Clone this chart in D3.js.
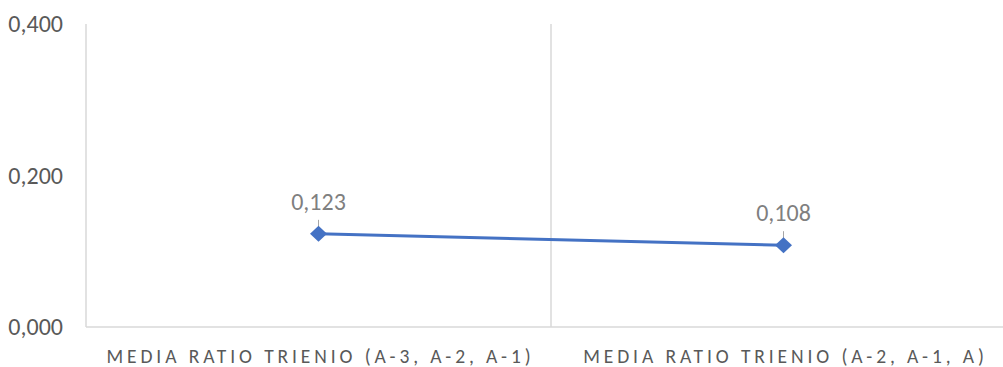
<!DOCTYPE html>
<html>
<head>
<meta charset="utf-8">
<script src="https://cdn.jsdelivr.net/npm/d3@7"></script>
<style>
  html, body { margin: 0; padding: 0; background: #fff; }
  svg { display: block; }
</style>
</head>
<body>
<svg id="chart" width="1003" height="367"></svg>
<script>
// Chart data
const categories = ["MEDIA RATIO TRIENIO (A-3, A-2, A-1)", "MEDIA RATIO TRIENIO (A-2, A-1, A)"];
const values = [0.123, 0.108];
const yTicks = [0, 0.2, 0.4];

const svg = d3.select("#chart");
const margin = { left: 86, right: -13, top: 24, bottom: 40 };
const width = 1003, height = 367;
const fmt = v => d3.format(".3f")(v).replace(".", ",");

const x = d3.scaleBand()
  .domain(categories)
  .range([margin.left, width - margin.right])
  .padding(0);

const y = d3.scaleLinear()
  .domain([0, 0.4])
  .range([height - margin.bottom, margin.top]);

const font = "Carlito, Calibri, 'Liberation Sans', sans-serif";

// Left axis line
svg.append("line")
  .attr("x1", margin.left).attr("x2", margin.left)
  .attr("y1", y(0.4)).attr("y2", y(0))
  .attr("stroke", "#d9d9d9").attr("stroke-width", 1.5);

// Category separators
categories.slice(1).forEach(c => {
  svg.append("line")
    .attr("x1", x(c)).attr("x2", x(c))
    .attr("y1", y(0.4)).attr("y2", y(0))
    .attr("stroke", "#d9d9d9").attr("stroke-width", 1.5);
});

// Bottom axis line
svg.append("line")
  .attr("x1", margin.left).attr("x2", width)
  .attr("y1", y(0)).attr("y2", y(0))
  .attr("stroke", "#d9d9d9").attr("stroke-width", 1.5);

// Y tick labels
svg.selectAll("text.ytick")
  .data(yTicks)
  .join("text")
  .attr("class", "ytick")
  .attr("x", 63)
  .attr("y", d => y(d) + 8)
  .attr("text-anchor", "end")
  .attr("font-family", font)
  .attr("font-size", 24)
  .attr("fill", "#595959")
  .text(fmt);

const cx = d => x(d) + x.bandwidth() / 2;

// Category labels
svg.selectAll("text.xcat")
  .data(categories)
  .join("text")
  .attr("class", "xcat")
  .attr("x", d => cx(d) + 2)
  .attr("y", 363)
  .attr("text-anchor", "middle")
  .attr("font-family", font)
  .attr("font-size", 19.5)
  .attr("letter-spacing", "3.9px")
  .attr("fill", "#595959")
  .text(d => d);

// Line
svg.append("path")
  .datum(categories.map((c, i) => [cx(c), y(values[i])]))
  .attr("d", d3.line())
  .attr("fill", "none")
  .attr("stroke", "#4472c4")
  .attr("stroke-width", 3);

// Leader lines
svg.selectAll("line.leader")
  .data(categories)
  .join("line")
  .attr("class", "leader")
  .attr("x1", d => cx(d)).attr("x2", d => cx(d))
  .attr("y1", (d, i) => y(values[i]) - 14)
  .attr("y2", (d, i) => y(values[i]) - 3)
  .attr("stroke", "#a6a6a6").attr("stroke-width", 1);

// Diamond markers
svg.selectAll("path.marker")
  .data(categories)
  .join("path")
  .attr("class", "marker")
  .attr("transform", (d, i) => `translate(${cx(d)},${y(values[i])})`)
  .attr("d", "M0,-8L8.5,0L0,8L-8.5,0Z")
  .attr("fill", "#4472c4");

// Data labels
svg.selectAll("text.dlabel")
  .data(categories)
  .join("text")
  .attr("class", "dlabel")
  .attr("x", d => cx(d))
  .attr("y", (d, i) => y(values[i]) - 24)
  .attr("text-anchor", "middle")
  .attr("font-family", font)
  .attr("font-size", 24)
  .attr("fill", "#7f7f7f")
  .text((d, i) => fmt(values[i]));
</script>
</body>
</html>
